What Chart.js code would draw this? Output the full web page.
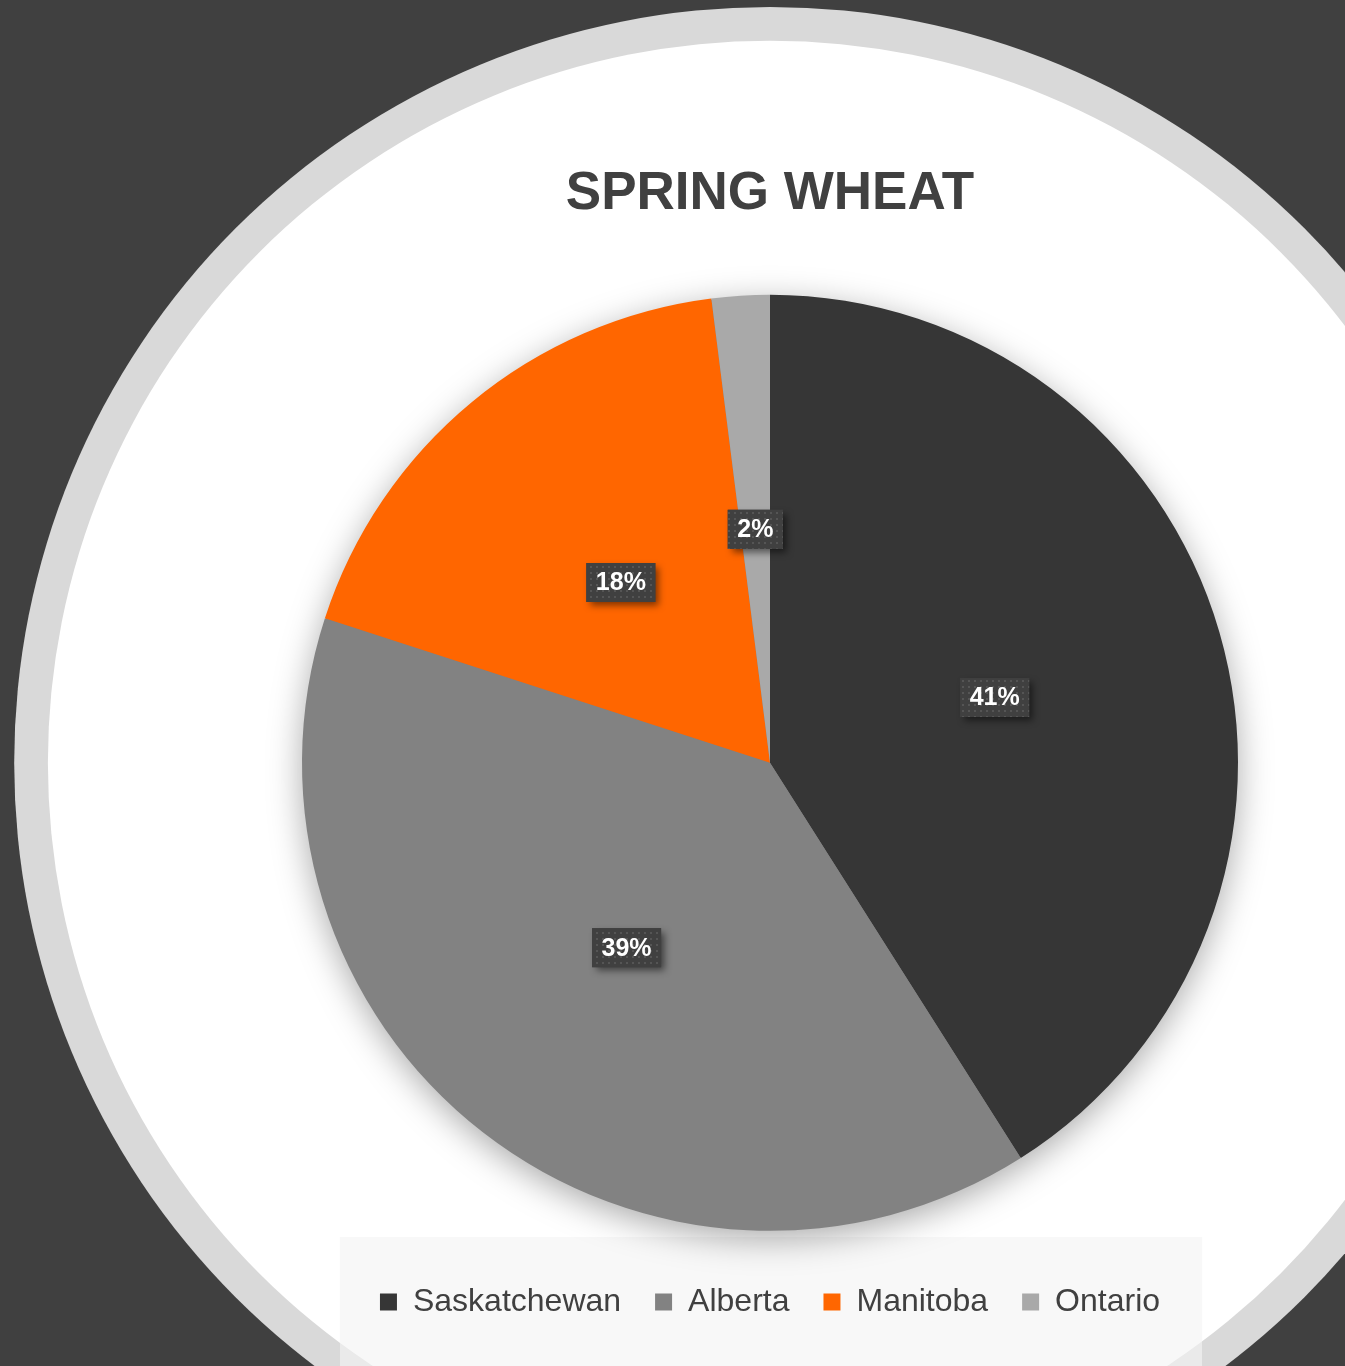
<!DOCTYPE html>
<html lang="en">
<head>
  <meta charset="UTF-8" />
  <title>Spring Wheat</title>
  <script src="https://cdn.jsdelivr.net/npm/chart.js"></script>
  <style>
    html, body { margin: 0; padding: 0; background: #404040; overflow: hidden; }
    #wrap { width: 1345px; height: 1366px; position: relative; }
  </style>
</head>
<body>
  <div id="wrap"><canvas id="wheatChart"></canvas></div>

  <script>
    // data
    const provinces = ["Saskatchewan", "Alberta", "Manitoba", "Ontario"];
    const shares = [41, 39, 18, 2];
    const sliceColors = ["#363636", "#828282", "#ff6600", "#a9a9a9"];

    const FONT = "'Liberation Sans', Arial, Helvetica, sans-serif";

    // dark page, grey ring, white disc, translucent legend panel
    const backdrop = {
      id: "backdrop",
      beforeDraw(chart) {
        const { ctx, width, height } = chart;
        const arc = chart.getDatasetMeta(0).data[0];
        ctx.save();
        ctx.fillStyle = "#404040";
        ctx.fillRect(0, 0, width, height);
        if (arc) {
          const r = arc.outerRadius;
          ctx.beginPath();
          ctx.arc(arc.x, arc.y, r * 1.615, 0, Math.PI * 2);
          ctx.fillStyle = "#d9d9d9";
          ctx.fill();
          ctx.beginPath();
          ctx.arc(arc.x, arc.y, r * 1.543, 0, Math.PI * 2);
          ctx.fillStyle = "#ffffff";
          ctx.fill();
        }
        const lg = chart.legend;
        if (lg && lg.legendHitBoxes && lg.legendHitBoxes.length) {
          const hb = lg.legendHitBoxes;
          const x0 = hb[0].left - 40;
          const x1 = hb[hb.length - 1].left + hb[hb.length - 1].width + 42;
          ctx.fillStyle = "rgba(244,244,244,0.62)";
          ctx.fillRect(x0, lg.top - 15, x1 - x0, height - lg.top + 15);
        }
        ctx.restore();
      }
    };

    // soft shadow under the pie
    const pieShadow = {
      id: "pieShadow",
      beforeDatasetsDraw(chart) {
        const arc = chart.getDatasetMeta(0).data[0];
        if (!arc) return;
        const ctx = chart.ctx;
        ctx.save();
        ctx.shadowColor = "rgba(0,0,0,0.35)";
        ctx.shadowBlur = 35;
        ctx.shadowOffsetY = 8;
        ctx.beginPath();
        ctx.arc(arc.x, arc.y, arc.outerRadius - 1, 0, Math.PI * 2);
        ctx.fillStyle = "#808080";
        ctx.fill();
        ctx.restore();
      }
    };

    // dark boxed percentage labels
    let dotPattern = null;
    function getDots(ctx) {
      if (dotPattern) return dotPattern;
      const c = document.createElement("canvas");
      c.width = 6; c.height = 6;
      const g = c.getContext("2d");
      g.fillStyle = "#404040";
      g.fillRect(0, 0, 6, 6);
      g.fillStyle = "#555555";
      g.fillRect(2, 2, 2, 2);
      dotPattern = ctx.createPattern(c, "repeat");
      return dotPattern;
    }

    const boxLabels = {
      id: "boxLabels",
      afterDatasetsDraw(chart) {
        const ctx = chart.ctx;
        const meta = chart.getDatasetMeta(0);
        ctx.save();
        ctx.font = "bold 25px " + FONT;
        ctx.textAlign = "center";
        ctx.textBaseline = "middle";
        meta.data.forEach((arc, i) => {
          const pos = arc.tooltipPosition();
          const txt = shares[i] + "%";
          const w = ctx.measureText(txt).width + 19;
          const h = 39;
          ctx.save();
          ctx.shadowColor = "rgba(0,0,0,0.5)";
          ctx.shadowBlur = 7;
          ctx.shadowOffsetX = 4;
          ctx.shadowOffsetY = 4;
          ctx.fillStyle = "#404040";
          ctx.fillRect(pos.x - w / 2, pos.y - h / 2, w, h);
          ctx.restore();
          ctx.fillStyle = getDots(ctx);
          ctx.fillRect(pos.x - w / 2, pos.y - h / 2, w, h);
          ctx.fillStyle = "#ffffff";
          ctx.fillText(txt, pos.x, pos.y + 1);
        });
        ctx.restore();
      }
    };

    new Chart(document.getElementById("wheatChart"), {
      type: "pie",
      data: {
        labels: provinces,
        datasets: [{
          data: shares,
          backgroundColor: sliceColors,
          borderWidth: 0,
          hoverOffset: 0,
          offset: 0
        }]
      },
      options: {
        responsive: true,
        maintainAspectRatio: false,
        animation: false,
        events: [],
        layout: { padding: { left: 302, right: 107, top: 0, bottom: 38 } },
        plugins: {
          title: {
            display: true,
            text: "SPRING WHEAT",
            color: "#404040",
            font: { family: FONT, size: 53, weight: "bold" },
            padding: { top: 163, bottom: 47 }
          },
          legend: {
            position: "bottom",
            labels: {
              color: "#404040",
              font: { family: FONT, size: 32 },
              boxWidth: 17,
              boxHeight: 17,
              padding: 34
            }
          },
          tooltip: { enabled: false }
        }
      },
      plugins: [backdrop, pieShadow, boxLabels]
    });
  </script>
</body>
</html>
